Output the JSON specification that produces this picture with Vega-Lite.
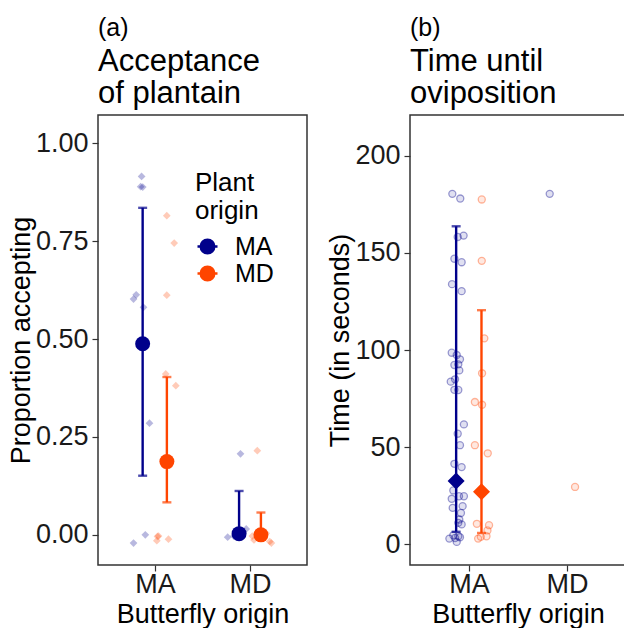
{
  "$schema": "https://vega.github.io/schema/vega-lite/v6.json",
  "background": "white",
  "padding": {"left": 6, "top": 15, "right": 0, "bottom": 0},
  "bounds": "flush",
  "spacing": 103,
  "config": {
    "font": "Liberation Sans",
    "view": {"stroke": "#333333", "strokeWidth": 1.5},
    "axis": {"grid": false, "domain": false, "tickColor": "#333333", "tickSize": 6, "tickWidth": 1.2, "labelFontSize": 27, "labelColor": "#1a1a1a", "titleFontSize": 27, "titleFontWeight": "normal", "titleColor": "black", "labelPadding": 4},
    "title": {"anchor": "start", "frame": "group", "fontSize": 25, "fontWeight": "normal", "color": "black", "subtitleFontSize": 31, "subtitleColor": "black", "subtitleLineHeight": 32, "subtitlePadding": 6, "offset": 6},
    "legend": {"symbolType": "M-1,0H1M0.68,0A0.68,0.68,0,1,1,-0.68,0A0.68,0.68,0,1,1,0.68,0Z", "symbolSize": 400, "symbolStrokeWidth": 2.4, "symbolOpacity": 1,
      "labelFontSize": 25, "titleFontSize": 26, "titleFontWeight": "normal", "titleLineHeight": 28, "labelOffset": 15, "rowPadding": 1, "titlePadding": 10,
      "labelColor": "black", "titleColor": "black"}
  },
  "datasets": {
    "ptsA": [
      {"butterfly": "MA", "plant": "MA", "xpos": 0.859, "value": 0.915},
      {"butterfly": "MA", "plant": "MA", "xpos": 0.849, "value": 0.889},
      {"butterfly": "MA", "plant": "MA", "xpos": 0.871, "value": 0.888},
      {"butterfly": "MA", "plant": "MA", "xpos": 0.802, "value": 0.613},
      {"butterfly": "MA", "plant": "MA", "xpos": 0.774, "value": 0.602},
      {"butterfly": "MA", "plant": "MA", "xpos": 0.879, "value": 0.581},
      {"butterfly": "MA", "plant": "MA", "xpos": 0.942, "value": 0.285},
      {"butterfly": "MA", "plant": "MA", "xpos": 0.774, "value": -0.021},
      {"butterfly": "MA", "plant": "MA", "xpos": 0.898, "value": 0.0},
      {"butterfly": "MA", "plant": "MD", "xpos": 1.124, "value": 0.815},
      {"butterfly": "MA", "plant": "MD", "xpos": 1.202, "value": 0.745},
      {"butterfly": "MA", "plant": "MD", "xpos": 1.124, "value": 0.612},
      {"butterfly": "MA", "plant": "MD", "xpos": 1.113, "value": 0.411},
      {"butterfly": "MA", "plant": "MD", "xpos": 1.219, "value": 0.381},
      {"butterfly": "MA", "plant": "MD", "xpos": 1.026, "value": -0.004},
      {"butterfly": "MA", "plant": "MD", "xpos": 1.019, "value": -0.015},
      {"butterfly": "MA", "plant": "MD", "xpos": 1.142, "value": -0.011},
      {"butterfly": "MA", "plant": "MD", "xpos": 1.037, "value": -0.003},
      {"butterfly": "MD", "plant": "MA", "xpos": 1.9, "value": 0.207},
      {"butterfly": "MD", "plant": "MA", "xpos": 1.765, "value": -0.006},
      {"butterfly": "MD", "plant": "MA", "xpos": 1.96, "value": 0.015},
      {"butterfly": "MD", "plant": "MA", "xpos": 1.915, "value": 0.0},
      {"butterfly": "MD", "plant": "MA", "xpos": 1.83, "value": -0.003},
      {"butterfly": "MD", "plant": "MD", "xpos": 2.077, "value": 0.215},
      {"butterfly": "MD", "plant": "MD", "xpos": 2.024, "value": -0.003},
      {"butterfly": "MD", "plant": "MD", "xpos": 2.042, "value": -0.013},
      {"butterfly": "MD", "plant": "MD", "xpos": 2.208, "value": -0.017},
      {"butterfly": "MD", "plant": "MD", "xpos": 2.225, "value": -0.021},
      {"butterfly": "MD", "plant": "MD", "xpos": 2.17, "value": 0.004}
    ],
    "meanA": [
      {"butterfly": "MA", "plant": "MA", "xpos": 0.87, "mean": 0.488, "lo": 0.151, "hi": 0.835},
      {"butterfly": "MA", "plant": "MD", "xpos": 1.125, "mean": 0.187, "lo": 0.083, "hi": 0.403},
      {"butterfly": "MD", "plant": "MA", "xpos": 1.885, "mean": 0.003, "lo": 0.0, "hi": 0.112},
      {"butterfly": "MD", "plant": "MD", "xpos": 2.115, "mean": 0.0, "lo": -0.003, "hi": 0.057}
    ],
    "ptsB": [
      {"butterfly": "MA", "plant": "MA", "xpos": 0.831, "value": 180.4},
      {"butterfly": "MA", "plant": "MA", "xpos": 0.912, "value": 178.0},
      {"butterfly": "MA", "plant": "MA", "xpos": 0.886, "value": 158.2},
      {"butterfly": "MA", "plant": "MA", "xpos": 0.946, "value": 158.9},
      {"butterfly": "MA", "plant": "MA", "xpos": 0.852, "value": 147.0},
      {"butterfly": "MA", "plant": "MA", "xpos": 0.926, "value": 145.2},
      {"butterfly": "MA", "plant": "MA", "xpos": 0.828, "value": 133.9},
      {"butterfly": "MA", "plant": "MA", "xpos": 0.926, "value": 130.3},
      {"butterfly": "MA", "plant": "MA", "xpos": 0.825, "value": 98.6},
      {"butterfly": "MA", "plant": "MA", "xpos": 0.876, "value": 97.4},
      {"butterfly": "MA", "plant": "MA", "xpos": 0.909, "value": 95.2},
      {"butterfly": "MA", "plant": "MA", "xpos": 0.852, "value": 92.3},
      {"butterfly": "MA", "plant": "MA", "xpos": 0.892, "value": 92.6},
      {"butterfly": "MA", "plant": "MA", "xpos": 0.902, "value": 89.5},
      {"butterfly": "MA", "plant": "MA", "xpos": 0.815, "value": 83.7},
      {"butterfly": "MA", "plant": "MA", "xpos": 0.859, "value": 84.9},
      {"butterfly": "MA", "plant": "MA", "xpos": 0.852, "value": 79.5},
      {"butterfly": "MA", "plant": "MA", "xpos": 0.892, "value": 79.4},
      {"butterfly": "MA", "plant": "MA", "xpos": 0.949, "value": 61.7},
      {"butterfly": "MA", "plant": "MA", "xpos": 0.886, "value": 56.9},
      {"butterfly": "MA", "plant": "MA", "xpos": 0.909, "value": 51.0},
      {"butterfly": "MA", "plant": "MA", "xpos": 0.852, "value": 41.4},
      {"butterfly": "MA", "plant": "MA", "xpos": 0.926, "value": 39.7},
      {"butterfly": "MA", "plant": "MA", "xpos": 0.841, "value": 27.7},
      {"butterfly": "MA", "plant": "MA", "xpos": 0.899, "value": 24.7},
      {"butterfly": "MA", "plant": "MA", "xpos": 0.949, "value": 24.7},
      {"butterfly": "MA", "plant": "MA", "xpos": 0.825, "value": 23.4},
      {"butterfly": "MA", "plant": "MA", "xpos": 0.936, "value": 19.6},
      {"butterfly": "MA", "plant": "MA", "xpos": 0.835, "value": 18.7},
      {"butterfly": "MA", "plant": "MA", "xpos": 0.919, "value": 16.1},
      {"butterfly": "MA", "plant": "MA", "xpos": 0.902, "value": 12.7},
      {"butterfly": "MA", "plant": "MA", "xpos": 0.926, "value": 10.2},
      {"butterfly": "MA", "plant": "MA", "xpos": 0.892, "value": 11.0},
      {"butterfly": "MA", "plant": "MA", "xpos": 0.841, "value": 4.6},
      {"butterfly": "MA", "plant": "MA", "xpos": 0.801, "value": 2.9},
      {"butterfly": "MA", "plant": "MA", "xpos": 0.892, "value": 4.1},
      {"butterfly": "MA", "plant": "MA", "xpos": 0.859, "value": 3.2},
      {"butterfly": "MA", "plant": "MA", "xpos": 0.909, "value": 3.6},
      {"butterfly": "MA", "plant": "MA", "xpos": 0.876, "value": 1.2},
      {"butterfly": "MA", "plant": "MD", "xpos": 1.131, "value": 177.5},
      {"butterfly": "MA", "plant": "MD", "xpos": 1.131, "value": 145.9},
      {"butterfly": "MA", "plant": "MD", "xpos": 1.157, "value": 106.0},
      {"butterfly": "MA", "plant": "MD", "xpos": 1.134, "value": 88.0},
      {"butterfly": "MA", "plant": "MD", "xpos": 1.061, "value": 73.2},
      {"butterfly": "MA", "plant": "MD", "xpos": 1.134, "value": 71.8},
      {"butterfly": "MA", "plant": "MD", "xpos": 1.061, "value": 51.0},
      {"butterfly": "MA", "plant": "MD", "xpos": 1.192, "value": 46.8},
      {"butterfly": "MA", "plant": "MD", "xpos": 1.081, "value": 10.5},
      {"butterfly": "MA", "plant": "MD", "xpos": 1.205, "value": 9.8},
      {"butterfly": "MA", "plant": "MD", "xpos": 1.189, "value": 7.1},
      {"butterfly": "MA", "plant": "MD", "xpos": 1.179, "value": 4.1},
      {"butterfly": "MA", "plant": "MD", "xpos": 1.094, "value": 2.9},
      {"butterfly": "MA", "plant": "MD", "xpos": 1.121, "value": 3.8},
      {"butterfly": "MD", "plant": "MA", "xpos": 1.823, "value": 180.4},
      {"butterfly": "MD", "plant": "MD", "xpos": 2.081, "value": 29.5}
    ],
    "meanB": [
      {"butterfly": "MA", "plant": "MA", "xpos": 0.87, "mean": 32.5, "lo": 6.4, "hi": 163.7},
      {"butterfly": "MA", "plant": "MD", "xpos": 1.128, "mean": 27.0, "lo": 5.8, "hi": 120.5}
    ]
  },
  "resolve": {"scale": {"color": "independent", "fill": "independent", "x": "independent", "y": "independent"}, "legend": {"color": "independent"}},
  "hconcat": [
    {
      "width": 209,
      "height": 450,
      "title": {"text": "(a)", "subtitle": ["Acceptance", "of plantain"]},
      "encoding": {
        "x": {"field": "xpos", "type": "quantitative", "scale": {"domain": [0.4, 2.6], "nice": false, "zero": false},
          "axis": {"values": [1, 2], "labelExpr": "datum.value == 1 ? 'MA' : 'MD'", "title": "Butterfly origin", "labelPadding": 0, "titlePadding": 4}},
        "color": {"field": "plant", "type": "nominal", "scale": {"domain": ["MA", "MD"], "range": ["#00008B", "#FF4500"]},
          "legend": {"orient": "none", "legendX": 97, "legendY": 55, "title": ["Plant", "origin"],
            "encode": {"symbols": {"update": {"stroke": {"signal": "datum.value === 'MA' ? '#00008B' : '#FF4500'"}, "fill": {"signal": "datum.value === 'MA' ? '#00008B' : '#FF4500'"}, "opacity": {"value": 1}, "strokeWidth": {"value": 2.4}}}}}}
      },
      "layer": [
        {
          "data": {"name": "ptsA"},
          "mark": {"type": "point", "shape": "diamond", "filled": true, "size": 60, "opacity": 0.28},
          "encoding": {
            "y": {"field": "value", "type": "quantitative", "scale": {"domain": [-0.077, 1.072], "nice": false, "zero": false},
              "axis": {"values": [0, 0.25, 0.5, 0.75, 1], "format": ".2f", "title": "Proportion accepting", "titlePadding": 0}}
          }
        },
        {
          "data": {"name": "meanA"},
          "mark": {"type": "rule", "strokeWidth": 2.4},
          "encoding": {
            "y": {"field": "lo", "type": "quantitative"},
            "y2": {"field": "hi"}
          }
        },
        {
          "data": {"name": "meanA"},
          "mark": {"type": "tick", "orient": "horizontal", "size": 9, "thickness": 2.4},
          "encoding": {
            "y": {"field": "hi", "type": "quantitative"}
          }
        },
        {
          "data": {"name": "meanA"},
          "mark": {"type": "tick", "orient": "horizontal", "size": 9, "thickness": 2.4},
          "encoding": {
            "y": {"field": "lo", "type": "quantitative"}
          }
        },
        {
          "data": {"name": "meanA"},
          "mark": {"type": "point", "shape": "circle", "filled": true, "size": 225, "opacity": 1},
          "encoding": {
            "y": {"field": "mean", "type": "quantitative"}
          }
        }
      ]
    },
    {
      "width": 216,
      "height": 450,
      "title": {"text": "(b)", "subtitle": ["Time until", "oviposition"]},
      "encoding": {
        "x": {"field": "xpos", "type": "quantitative", "scale": {"domain": [0.4, 2.6], "nice": false, "zero": false},
          "axis": {"values": [1, 2], "labelExpr": "datum.value == 1 ? 'MA' : 'MD'", "title": "Butterfly origin", "labelPadding": 0, "titlePadding": 4}},
        "color": {"field": "plant", "type": "nominal", "scale": {"domain": ["MA", "MD"], "range": ["#00008B", "#FF4500"]}, "legend": null}
      },
      "layer": [
        {
          "data": {"name": "ptsB"},
          "mark": {"type": "point", "shape": "circle", "filled": false, "size": 50, "strokeWidth": 1.3, "strokeOpacity": 0.38, "fillOpacity": 0.12},
          "encoding": {
            "y": {"field": "value", "type": "quantitative", "scale": {"domain": [-10.7, 221], "nice": false, "zero": false},
              "axis": {"values": [0, 50, 100, 150, 200], "title": "Time (in seconds)", "titlePadding": 0}},
            "fill": {"field": "plant", "type": "nominal", "scale": {"domain": ["MA", "MD"], "range": ["#00008B", "#FF4500"]}, "legend": null}
          }
        },
        {
          "data": {"name": "meanB"},
          "mark": {"type": "rule", "strokeWidth": 2.4},
          "encoding": {
            "y": {"field": "lo", "type": "quantitative"},
            "y2": {"field": "hi"}
          }
        },
        {
          "data": {"name": "meanB"},
          "mark": {"type": "tick", "orient": "horizontal", "size": 9, "thickness": 2.4},
          "encoding": {
            "y": {"field": "hi", "type": "quantitative"}
          }
        },
        {
          "data": {"name": "meanB"},
          "mark": {"type": "tick", "orient": "horizontal", "size": 9, "thickness": 2.4},
          "encoding": {
            "y": {"field": "lo", "type": "quantitative"}
          }
        },
        {
          "data": {"name": "meanB"},
          "mark": {"type": "point", "shape": "diamond", "filled": true, "size": 289, "opacity": 1},
          "encoding": {
            "y": {"field": "mean", "type": "quantitative"}
          }
        }
      ]
    }
  ]
}
